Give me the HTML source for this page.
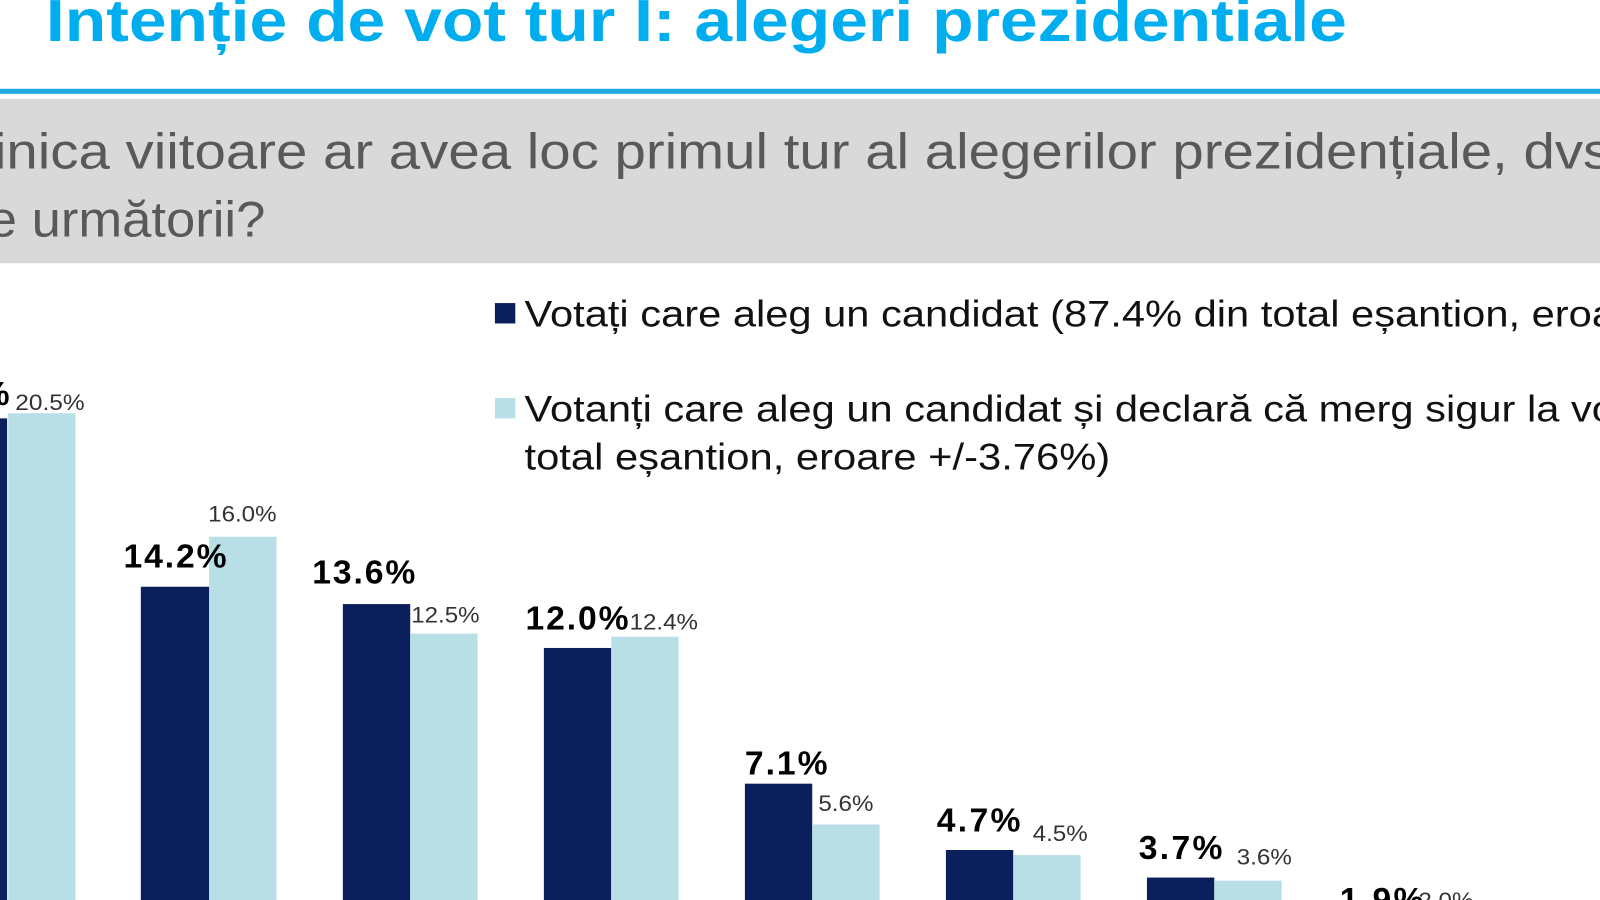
<!DOCTYPE html>
<html><head><meta charset="utf-8"><style>
html,body{margin:0;padding:0;background:#fff;overflow:hidden}
svg{display:block}
</style></head><body>
<svg width="1600" height="900" viewBox="0 0 1568 882" preserveAspectRatio="none" xmlns="http://www.w3.org/2000/svg" font-family="Liberation Sans, Arial, sans-serif">
<rect width="1568" height="882" fill="#fff"/>
<text x="45" y="40" font-size="58" font-weight="bold" fill="#00aeef" textLength="1275" lengthAdjust="spacingAndGlyphs">Intenție de vot tur I: alegeri prezidentiale</text>
<rect x="0" y="87" width="1568" height="5" fill="#1fa9dc"/>
<rect x="0" y="97" width="1568" height="161" fill="#d9d9d9"/>
<text x="-6" y="165" font-size="49" fill="#595959" textLength="1585" lengthAdjust="spacingAndGlyphs">inica viitoare ar avea loc primul tur al alegerilor prezidențiale, dvs</text>
<text x="-12" y="232" font-size="49" fill="#595959" textLength="272" lengthAdjust="spacingAndGlyphs">e următorii?</text>
<rect x="485" y="297" width="20" height="20" fill="#0a1f5c"/>
<text x="514" y="320" font-size="36" fill="#111" textLength="1105" lengthAdjust="spacingAndGlyphs">Votați care aleg un candidat (87.4% din total eșantion, eroare</text>
<rect x="485" y="390" width="20" height="20" fill="#b8dfe6"/>
<text x="514" y="413" font-size="36" fill="#111" textLength="1080" lengthAdjust="spacingAndGlyphs">Votanți care aleg un candidat și declară că merg sigur la vot</text>
<text x="514" y="460" font-size="36" fill="#111" textLength="574" lengthAdjust="spacingAndGlyphs">total eșantion, eroare +/-3.76%)</text>
<g fill="#0a1f5c">
<rect x="-60" y="410" width="67" height="490"/>
<rect x="138" y="575" width="67" height="325"/>
<rect x="336" y="592" width="66" height="308"/>
<rect x="533" y="635" width="66" height="265"/>
<rect x="730" y="768" width="66" height="132"/>
<rect x="927" y="833" width="66" height="67"/>
<rect x="1124" y="860" width="66" height="40"/>
<rect x="1321" y="895" width="66" height="5"/>
</g>
<g fill="#b8dfe6">
<rect x="8" y="405" width="66" height="495"/>
<rect x="205" y="526" width="66" height="374"/>
<rect x="402" y="621" width="66" height="279"/>
<rect x="599" y="624" width="66" height="276"/>
<rect x="796" y="808" width="66" height="92"/>
<rect x="993" y="838" width="66" height="62"/>
<rect x="1190" y="863" width="66" height="37"/>
<rect x="1387" y="893" width="66" height="7"/>
</g>
<g font-size="33" font-weight="bold" fill="#000" lengthAdjust="spacingAndGlyphs">
<text x="-20" y="397" textLength="30">%</text>
<text x="121" y="556" textLength="101">14.2%</text>
<text x="306" y="572" textLength="101">13.6%</text>
<text x="515" y="617" textLength="101">12.0%</text>
<text x="730" y="759" textLength="81">7.1%</text>
<text x="918" y="815" textLength="82">4.7%</text>
<text x="1116" y="842" textLength="82">3.7%</text>
<text x="1313" y="893" textLength="82">1.9%</text>
</g>
<g font-size="22" fill="#333">
<text x="15" y="402" textLength="68" lengthAdjust="spacingAndGlyphs">20.5%</text>
<text x="204" y="511" textLength="67" lengthAdjust="spacingAndGlyphs">16.0%</text>
<text x="403" y="610" textLength="67" lengthAdjust="spacingAndGlyphs">12.5%</text>
<text x="617" y="617" textLength="67" lengthAdjust="spacingAndGlyphs">12.4%</text>
<text x="802" y="795" textLength="54" lengthAdjust="spacingAndGlyphs">5.6%</text>
<text x="1012" y="824" textLength="54" lengthAdjust="spacingAndGlyphs">4.5%</text>
<text x="1212" y="847" textLength="54" lengthAdjust="spacingAndGlyphs">3.6%</text>
<text x="1390" y="890" textLength="54" lengthAdjust="spacingAndGlyphs">2.0%</text>
</g>
</svg>
</body></html>
